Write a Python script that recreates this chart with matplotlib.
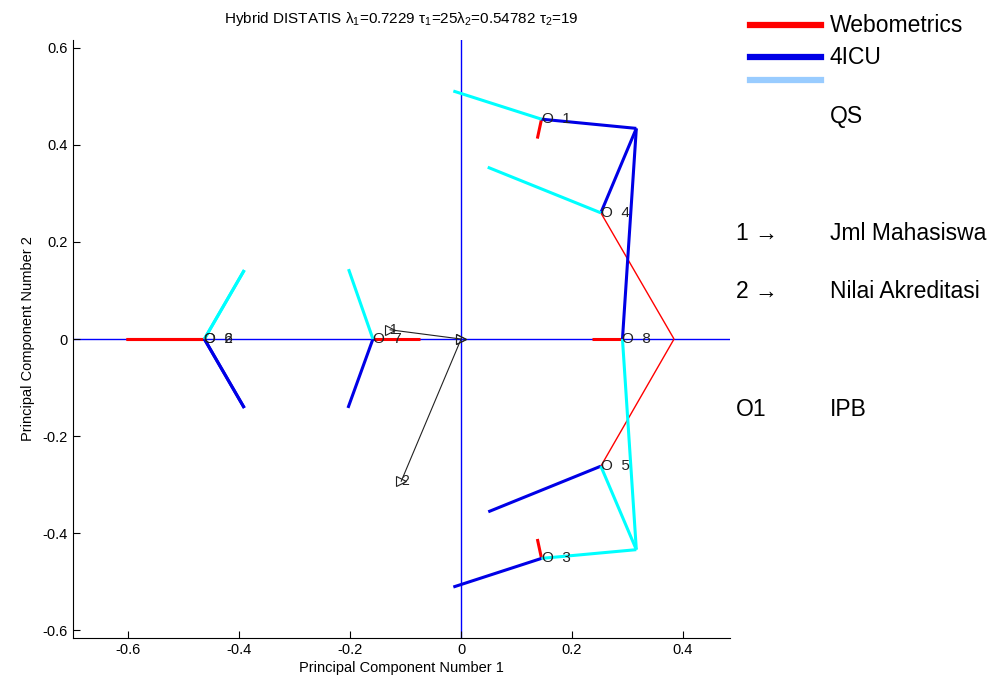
import numpy as np
import matplotlib
matplotlib.use('Agg')
import matplotlib.pyplot as plt
from matplotlib.lines import Line2D

plt.rcParams.update({
    "font.family": ["Liberation Sans", "DejaVu Sans"],
    "axes.unicode_minus": False,
    "mathtext.fontset": "custom",
    "mathtext.rm": "Liberation Sans",
    "mathtext.it": "Liberation Sans",
})

# compromise points (observations)
obs_labels = ["1", "2", "3", "4", "5", "6", "7", "8"]
comp_x = [0.145, -0.463, 0.145, 0.252, 0.252, -0.463, -0.159, 0.291]
comp_y = [0.453, 0.0, -0.452, 0.260, -0.262, 0.0, 0.0, 0.0]

# partial projections per table
tables = ["Webometrics", "4ICU", "QS"]
web_x = [0.1375, -0.604, 0.1375, 0.384, 0.384, -0.604, -0.075, 0.2355]
web_y = [0.413, 0.0, -0.412, 0.0, 0.0, 0.0, 0.0, 0.0]
icu_x = [0.316, -0.391, -0.014, 0.316, 0.049, -0.391, -0.204, 0.316]
icu_y = [0.434, -0.142, -0.511, 0.434, -0.356, -0.142, -0.142, 0.434]
qs_x = [-0.014, -0.391, 0.316, 0.048, 0.316, -0.391, -0.203, 0.316]
qs_y = [0.511, 0.142, -0.434, 0.354, -0.434, 0.142, 0.144, -0.434]

# variable loadings (arrows)
var_labels = ["1", "2"]
var_x = [-0.128, -0.108]
var_y = [0.019, -0.293]

xticks = [-0.6, -0.4, -0.2, 0, 0.2, 0.4]
yticks = [-0.6, -0.4, -0.2, 0, 0.2, 0.4, 0.6]
tick_fmt = lambda v: "0" if v == 0 else f"{v:g}"

title = (r"Hybrid DISTATIS $\lambda_1$=0.7229 $\tau_1$=25$\lambda_2$=0.54782 "
         r"$\tau_2$=19")

fig = plt.figure(figsize=(9.98, 6.79), dpi=100)
ax = fig.add_axes([0.0731, 0.0604, 0.6584, 0.8806])

COL = {"Webometrics": "#ff0000", "4ICU": "#0000e6", "QS": "#00ffff"}
LEG_COL = {"Webometrics": "#ff0000", "4ICU": "#0000e6", "QS": "#99ccff"}
part = {"Webometrics": (web_x, web_y), "4ICU": (icu_x, icu_y), "QS": (qs_x, qs_y)}
thin = {("Webometrics", 3), ("Webometrics", 4)}

ax.axhline(0, color="#0000ff", lw=1.0, zorder=1)
ax.axvline(0, color="#0000ff", lw=1.0, zorder=1)

for t in tables:
    px, py = part[t]
    for i in range(len(comp_x)):
        lw = 1.0 if (t, i) in thin else 2.2
        ax.plot([comp_x[i], px[i]], [comp_y[i], py[i]], color=COL[t], lw=lw,
                solid_capstyle="butt", zorder=2)

for i, lab in enumerate(obs_labels):
    ax.text(comp_x[i], comp_y[i], "O  " + lab, ha="left", va="center",
            fontsize=11, color="#222222", zorder=4)

for i, lab in enumerate(var_labels):
    ax.plot([0, var_x[i]], [0, var_y[i]], color="#222222", lw=0.8,
            marker=">", markersize=7, markerfacecolor="none",
            markeredgecolor="#222222", markeredgewidth=0.8, zorder=3)
    ax.text(var_x[i], var_y[i], lab, ha="left", va="center", fontsize=10,
            color="#222222", zorder=4)

ax.set_xlim(-0.7, 0.485)
ax.set_ylim(-0.616, 0.616)
ax.set_xticks(xticks)
ax.set_xticklabels([tick_fmt(v) for v in xticks])
ax.set_yticks(yticks)
ax.set_yticklabels([tick_fmt(v) for v in yticks])
ax.tick_params(direction="in", length=5, labelsize=10.5, top=False, right=False)
ax.spines[["top", "right"]].set_visible(False)
ax.set_xlabel("Principal Component Number 1", fontsize=10.5, labelpad=3)
ax.set_ylabel("Principal Component Number 2", fontsize=10.5, labelpad=6)
ax.set_title(title, fontsize=11, pad=12)

# legend outside the axes
leg_y = [25, 57, 80]
lab_y = [25, 57, 116]
for t, ly, ty in zip(tables, leg_y, lab_y):
    fig.add_artist(Line2D([750 / 998, 821 / 998], [1 - ly / 679, 1 - ly / 679],
                          color=LEG_COL[t], lw=4.5, transform=fig.transFigure))
    fig.text(830 / 998, 1 - ty / 679, t, fontsize=16.5, va="center", ha="left")

notes = [("1 \u2192", "Jml Mahasiswa", 234), ("2 \u2192", "Nilai Akreditasi", 291),
         ("O1", "IPB", 409)]
for a, b, yy in notes:
    fig.text(736 / 998, 1 - yy / 679, a, fontsize=16.5, va="center", ha="left")
    fig.text(830 / 998, 1 - yy / 679, b, fontsize=16.5, va="center", ha="left")

fig.savefig("out.png", dpi=100)
